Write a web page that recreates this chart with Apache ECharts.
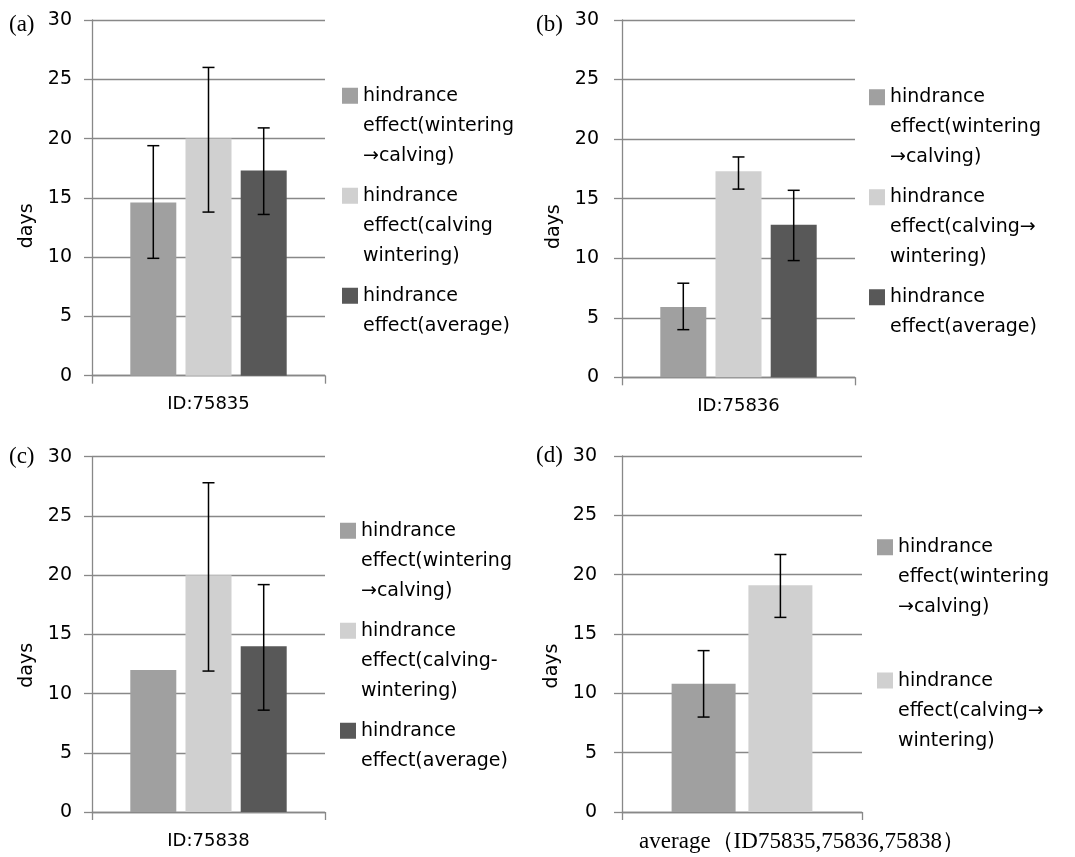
<!DOCTYPE html>
<html><head><meta charset="utf-8">
<script src="https://cdn.jsdelivr.net/npm/echarts@6/dist/echarts.min.js"></script>
<style>html,body{margin:0;padding:0;background:#fff}#c{width:1075px;height:857px}</style>
</head><body><div id="c"></div>
<script>
// ---- data ----
const panelTitles = ['(a)', '(b)', '(c)', '(d)'];
const categories = ['ID:75835', 'ID:75836', 'ID:75838', 'average（ID75835,75836,75838）'];
const yMin = 0, yMax = 30, yInterval = 5;
const axisName = 'days';

const legendA = ['hindrance\neffect(wintering\n→calving)', 'hindrance\neffect(calving\nwintering)', 'hindrance\neffect(average)'];
const legendB = ['hindrance\neffect(wintering\n→calving)', 'hindrance\neffect(calving→\nwintering)', 'hindrance\neffect(average)'];
const legendC = ['hindrance\neffect(wintering\n→calving)', 'hindrance\neffect(calving-\nwintering)', 'hindrance\neffect(average)'];
const legendD = ['hindrance\neffect(wintering\n→calving)', 'hindrance\neffect(calving→\nwintering)'];

const meanA = [14.6, 20.0, 17.3];
const lowA  = [9.9, 13.8, 13.6];
const highA = [19.4, 26.0, 20.9];

const meanB = [5.9, 17.3, 12.8];
const lowB  = [4.0, 15.8, 9.8];
const highB = [7.9, 18.5, 15.7];

const meanC = [12.0, 20.0, 14.0];
const lowC  = [null, 11.9, 8.6];
const highC = [null, 27.8, 19.2];

const meanD = [10.8, 19.1];
const lowD  = [8.0, 16.4];
const highD = [13.6, 21.7];

// ---- styles ----
const colors = ['#a0a0a0', '#d0d0d0', '#585858'];
const gridLine = '#888888';
const sans = 'DejaVu Sans';
const serif = 'Liberation Serif';

const panels = [
  { legend: legendA, mean: meanA, low: lowA, high: highA,
    grid: { left: 92, top: 20, width: 233, height: 355.7 }, barWidth: 46,
    labelMargin: 20, nameGap: 55, nameShift: 56,
    leg: { left: 342, top: 80.7, itemGap: 10 }, title: { left: 9, top: 13 } },
  { legend: legendB, mean: meanB, low: lowB, high: highB,
    grid: { left: 622, top: 20, width: 233, height: 357.3 }, barWidth: 46,
    labelMargin: 23, nameGap: 58, nameShift: 56,
    leg: { left: 869, top: 82.3, itemGap: 10 }, title: { left: 536, top: 13 } },
  { legend: legendC, mean: meanC, low: lowC, high: highC,
    grid: { left: 92, top: 456.7, width: 233, height: 355.3 }, barWidth: 46,
    labelMargin: 20, nameGap: 55, nameShift: 62,
    leg: { left: 340, top: 515.7, itemGap: 10 }, title: { left: 9, top: 445 } },
  { legend: legendD, mean: meanD, low: lowD, high: highD,
    grid: { left: 622, top: 456, width: 240, height: 356 }, barWidth: 64,
    labelMargin: 25, nameGap: 60, nameShift: 64,
    leg: { left: 877, top: 532.3, itemGap: 43.3 }, title: { left: 536, top: 444 } }
];

const iconPath = 'path://M0,0L16,0M0,7L16,7L16,23L0,23ZM0,90L16,90';

function padLines(name) {
  const n = name.split('\n').length;
  return n < 3 ? name + '\n ' : name;
}

function errRender(idx, n, bw) {
  return function (params, api) {
    const lo = api.value(1), hi = api.value(2);
    const off = (idx - (n - 1) / 2) * bw * 1.2;
    const pLo = api.coord([api.value(0), lo]);
    const pHi = api.coord([api.value(0), hi]);
    const x = pLo[0] + off;
    const cap = 6;
    const st = { stroke: '#000', lineWidth: 1.5 };
    return { type: 'group', children: [
      { type: 'line', shape: { x1: x, y1: pLo[1], x2: x, y2: pHi[1] }, style: st },
      { type: 'line', shape: { x1: x - cap, y1: pHi[1], x2: x + cap, y2: pHi[1] }, style: st },
      { type: 'line', shape: { x1: x - cap, y1: pLo[1], x2: x + cap, y2: pLo[1] }, style: st }
    ]};
  };
}

const option = { animation: false, backgroundColor: '#fff',
  title: [], grid: [], xAxis: [], yAxis: [], legend: [], series: [] };

panels.forEach((p, gi) => {
  option.title.push({ text: panelTitles[gi], left: p.title.left, top: p.title.top, padding: 0,
    textStyle: { fontFamily: serif, fontSize: 23, fontWeight: 'normal', color: '#000' } });
  option.grid.push(Object.assign({ containLabel: false }, p.grid));
  const isD = gi === 3;
  option.xAxis.push({ type: 'category', gridIndex: gi, data: [categories[gi]],
    axisLine: { show: true, lineStyle: { color: gridLine, width: 1.3 } },
    axisTick: { show: true, length: 8, lineStyle: { color: gridLine, width: 1.3 } },
    axisLabel: isD
      ? { margin: 18, fontFamily: serif, fontSize: 23, color: '#000', padding: [0, 0, 0, 120] }
      : { margin: 20, fontFamily: sans, fontSize: 18, color: '#000' } });
  option.yAxis.push({ type: 'value', gridIndex: gi, min: yMin, max: yMax, interval: yInterval,
    name: axisName, nameLocation: 'middle', nameGap: p.nameGap,
    nameTextStyle: { fontFamily: sans, fontSize: 19, color: '#000', padding: [0, p.nameShift, 0, 0] },
    axisLine: { show: true, lineStyle: { color: gridLine, width: 1.3 } },
    axisTick: { show: true, length: 8, lineStyle: { color: gridLine, width: 1.3 } },
    splitLine: { show: true, lineStyle: { color: gridLine, width: 1.3 } },
    axisLabel: { margin: p.labelMargin, fontFamily: sans, fontSize: 19, color: '#000' } });
  option.legend.push({ orient: 'vertical', left: p.leg.left, top: p.leg.top, padding: 0,
    itemWidth: 16, itemHeight: 90, itemGap: p.leg.itemGap, icon: iconPath,
    selectedMode: false, data: p.legend, formatter: padLines,
    textStyle: { fontFamily: sans, fontSize: 19, lineHeight: 30, color: '#000' } });
  const n = p.mean.length;
  p.mean.forEach((v, si) => {
    option.series.push({ type: 'bar', name: p.legend[si], xAxisIndex: gi, yAxisIndex: gi,
      data: [v], barWidth: p.barWidth, barGap: '20%',
      itemStyle: { color: colors[si] }, emphasis: { disabled: true } });
  });
  p.mean.forEach((v, si) => {
    if (p.low[si] == null) return;
    option.series.push({ type: 'custom', xAxisIndex: gi, yAxisIndex: gi, z: 5,
      renderItem: errRender(si, n, p.barWidth),
      encode: { x: 0, y: [1, 2] },
      data: [[0, p.low[si], p.high[si]]], silent: true });
  });
});

const chart = echarts.init(document.getElementById('c'), null, { renderer: 'canvas' });
chart.setOption(option);
</script>
</body></html>
